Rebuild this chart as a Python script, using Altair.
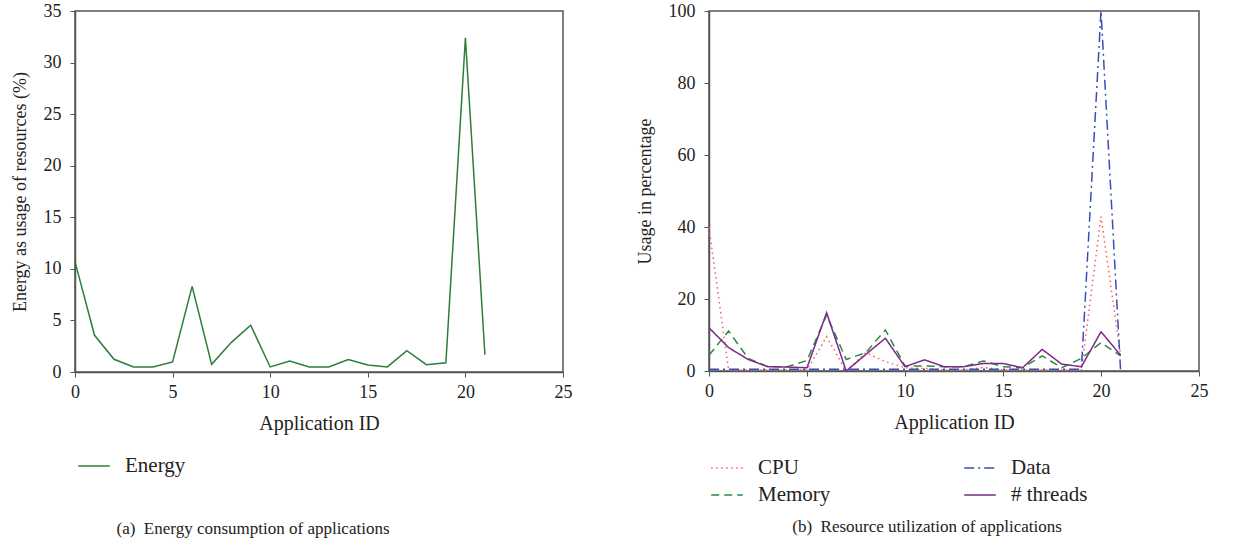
import altair as alt
import pandas as pd

ids = list(range(22))
energy = [10.7, 3.56, 1.23, 0.49, 0.49, 0.97, 8.3, 0.74, 2.85, 4.53, 0.49,
          1.07, 0.49, 0.49, 1.2, 0.68, 0.49, 2.07, 0.71, 0.9, 32.4, 1.68]

cpu = [39.8, 0.3, 0.3, 0.3, 0.3, 0.3, 9.5, 0.0, 5.1, 2.6, 0.9,
       0.7, 0.3, 0.3, 1.0, 0.3, 0.3, 0.3, 0.3, 0.3, 42.9, 4.4]
memory = [4.4, 11.1, 3.5, 1.2, 1.2, 2.9, 15.6, 3.2, 5.1, 11.4, 1.4,
          1.4, 1.2, 1.2, 2.8, 1.2, 0.9, 4.2, 0.9, 3.5, 7.9, 4.2]
data_use = [0.5, 0.5, 0.5, 0.5, 0.5, 0.5, 0.5, 0.5, 0.5, 0.5, 0.5,
            0.5, 0.5, 0.5, 0.5, 0.5, 0.5, 0.5, 0.5, 0.5, 100.0, 0.0]
threads = [12.0, 6.5, 3.2, 1.2, 1.1, 0.9, 16.2, 0.0, 4.6, 9.1, 1.2,
           3.1, 1.2, 1.2, 2.1, 2.1, 0.9, 6.0, 1.9, 1.2, 10.9, 4.4]

series_names = ["CPU", "Memory", "Data", "# threads"]
series_colors = ["#ff5a5a", "#2e8b3e", "#3a4fb5", "#7b2a8a"]
series_dash = [[1.5, 3.5], [8, 5], [10, 4, 2, 4], [1, 0]]

FONT = "Liberation Serif"
AX = "#555555"

df_e = pd.DataFrame({"id": ids, "value": energy, "series": "Energy"})
rows = []
for name, vals in zip(["CPU", "Memory", "Data", "# threads"], [cpu, memory, data_use, threads]):
    for i, v in zip(ids, vals):
        rows.append({"id": i, "value": v, "series": name})
df_r = pd.DataFrame(rows)

xaxis = alt.Axis(values=[0, 5, 10, 15, 20, 25], title="Application ID", grid=False,
                 labelFontSize=18, titleFontSize=20, titleFontWeight="normal",
                 tickSize=5, labelPadding=6, titlePadding=12, labelFlush=False)

left = alt.Chart(df_e).mark_line(strokeWidth=1.5).encode(
    x=alt.X("id:Q", scale=alt.Scale(domain=[0, 25], nice=False), axis=xaxis),
    y=alt.Y("value:Q", scale=alt.Scale(domain=[0, 35], nice=False),
            axis=alt.Axis(values=[0, 5, 10, 15, 20, 25, 30, 35], grid=False,
                          title="Energy as usage of resources (%)",
                          labelFontSize=18, titleFontSize=18, titleFontWeight="normal",
                          tickSize=5, labelPadding=9, titlePadding=14)),
    color=alt.Color("series:N", scale=alt.Scale(domain=["Energy"], range=["#2f7d3a"]),
                    legend=alt.Legend(title=None, orient="none", legendX=2, legendY=438,
                                      symbolType="stroke", symbolSize=1000,
                                      symbolStrokeWidth=1.5, labelFontSize=21,
                                      labelOffset=14)),
).properties(
    width=488, height=361,
    title=alt.TitleParams("(a)\u00a0 Energy consumption of applications", orient="bottom",
                          fontSize=17, fontWeight="normal", dx=-66, offset=45),
)

right = alt.Chart(df_r).mark_line(strokeWidth=1.5).encode(
    x=alt.X("id:Q", scale=alt.Scale(domain=[0, 25], nice=False), axis=xaxis),
    y=alt.Y("value:Q", scale=alt.Scale(domain=[0, 100], nice=False),
            axis=alt.Axis(values=[0, 20, 40, 60, 80, 100], grid=False,
                          title="Usage in percentage",
                          labelFontSize=18, titleFontSize=18, titleFontWeight="normal",
                          tickSize=5, labelPadding=9, titlePadding=14)),
    color=alt.Color("series:N", sort=series_names,
                    scale=alt.Scale(domain=series_names, range=series_colors),
                    legend=alt.Legend(title=None, orient="none", legendX=1, legendY=440,
                                      columns=2, columnPadding=130, rowPadding=-6,
                                      symbolType="stroke", symbolSize=1000,
                                      symbolStrokeWidth=1.5, labelFontSize=21,
                                      labelOffset=14)),
    strokeDash=alt.StrokeDash("series:N", sort=series_names,
                              scale=alt.Scale(domain=series_names, range=series_dash),
                              legend=None),
).properties(
    width=490, height=360,
    title=alt.TitleParams("(b)\u00a0 Resource utilization of applications", orient="bottom",
                          fontSize=17, fontWeight="normal", dx=-27, offset=14),
)

chart = alt.hconcat(left, right, spacing=62).resolve_scale(
    color="independent", strokeDash="independent", y="independent", x="independent"
).resolve_legend(color="independent", strokeDash="independent").configure(
    font=FONT,
    padding={"left": 10, "top": 1, "right": 5, "bottom": 5},
).configure_view(
    stroke=AX, strokeWidth=1.5
).configure_axis(
    domainColor=AX, tickColor=AX, domainWidth=1.5, labelColor="#222222",
    titleColor="#222222", labelFont=FONT, titleFont=FONT
).configure_legend(
    labelColor="#222222", labelFont=FONT
).configure_title(
    color="#222222", font=FONT
)

chart.save("out.html", embed_options={"renderer": "svg", "actions": False})
